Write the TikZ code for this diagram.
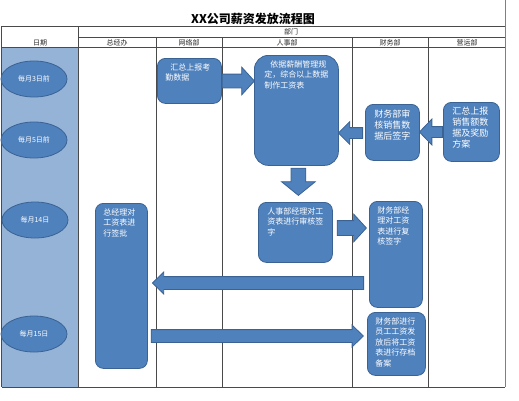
\documentclass[tikz,border=0pt]{standalone}
\usepackage{fontspec}
\setmainfont{Noto Sans CJK SC}
\usepackage{tikz}
\usetikzlibrary{positioning}
\usetikzlibrary{calc}
\usetikzlibrary{shapes.geometric}
\usetikzlibrary{shapes.arrows}

\definecolor{boxblue}{HTML}{4F81BD}
\definecolor{boxline}{HTML}{3A6394}
\definecolor{datecol}{HTML}{95B3D7}
\definecolor{gridcol}{HTML}{4A4A4A}

% text block inside a flow box: width, height, lines
\newcommand{\boxtxt}[3]{\parbox[c][#2][t]{#1}{\vspace*{5pt}#3}}
% block arrow from one named coordinate to another
\newcommand{\blockarrow}[4]{%
	\path let \p1=(#2), \p2=(#3), \n1={veclen(\x2-\x1,\y2-\y1)} in
		node[blockarrow, minimum height=\n1, anchor=tail, #4] (#1) at (#2) {};}

\begin{document}
\begin{tikzpicture}[
		x=1pt, y=-1pt,
		gridline/.style={draw=gridcol, line width=0.7pt},
		headtext/.style={text=black!85, inner sep=0pt, font=\fontsize{7}{8}\selectfont},
		datenode/.style={
			ellipse,
			draw=boxline,
			fill=boxblue,
			line width=0.8pt,
			text=white,
			minimum width=66pt,
			minimum height=36pt,
			inner sep=0pt,
			font=\fontsize{7}{8}\selectfont
		},
		flowbox/.style={
			rectangle,
			rounded corners=8pt,
			draw=boxline,
			fill=boxblue,
			line width=0.8pt,
			text=white,
			anchor=north west,
			inner xsep=8pt,
			inner ysep=0pt,
			font=\fontsize{8}{10.5}\selectfont
		},
		widebox/.style={flowbox, inner xsep=9pt, font=\fontsize{9}{11}\selectfont},
		blockarrow/.style={
			single arrow,
			draw=boxline,
			fill=boxblue,
			line width=0.8pt,
			inner xsep=0pt,
			inner ysep=6.5pt,
			minimum width=0pt,
			single arrow head extend=7pt,
			single arrow tip angle=95,
			single arrow head indent=0pt
		}
		]
		\useasboundingbox (0,0) rectangle (519,400);

		% table frame
		\fill[datecol] (2,47) rectangle (78,387);
		\draw[gridline] (2,26) -- (505,26);
		\draw[gridline] (78,37) -- (505,37);
		\draw[gridline] (2,47) -- (505,47);
		\draw[gridline] (2,387) -- (505,387);
		\draw[gridline] (1.5,26) -- (1.5,387);
		\draw[gridline, draw=gray] (505,0) -- (505,387);
		\draw[gridline] (78,26) -- (78,387);
		\foreach \xcol in {156,222,352,428}
			\draw[gridline] (\xcol,37) -- (\xcol,387);

		% headings
		\node[font=\bfseries\fontsize{12}{14}\selectfont, inner sep=0pt] (title) at (253,19) {XX公司薪资发放流程图};
		\node[headtext] (hdate) at (40,43) {日期};
		\node[headtext] (hdept) at (291,32) {部门};
		\node[headtext] (hzjb) at (117,43) {总经办};
		\node[headtext] (hwlb) at (189,43) {网络部};
		\node[headtext] (hrsb) at (287,43) {人事部};
		\node[headtext] (hcwb) at (390,43) {财务部};
		\node[headtext] (hyyb) at (467,43) {营运部};

		% dates
		\node[datenode] (d3) at (34,79) {每月3日前};
		\node[datenode] (d5) at (34,140) {每月5日前};
		\node[datenode] (d14) at (35,220) {每月14日};
		\node[datenode] (d15) at (34,334) {每月15日};

		% steps
		\node[flowbox] (kq) at (157,58) {\boxtxt{48pt}{45pt}{\hspace*{5pt}汇总上报考\\勤数据}};
		\node[flowbox, rounded corners=14pt, inner xsep=10pt] (zb) at (254,55)
			{\boxtxt{64pt}{110pt}{\hspace*{6pt}依据薪酬管理规\\定，综合以上数据\\制作工资表}};
		\node[widebox] (cwsh) at (365,104) {\boxtxt{36pt}{56pt}{财务部审\\核销售数\\据后签字}};
		\node[widebox] (yy) at (443,102) {\boxtxt{38pt}{59pt}{汇总上报\\销售额数\\据及奖励\\方案}};
		\node[flowbox, inner xsep=9pt] (rsjl) at (258,202) {\boxtxt{56pt}{60pt}{人事部经理对工\\资表进行审核签\\字}};
		\node[flowbox] (cwjl) at (369,201) {\boxtxt{37pt}{106pt}{财务部经\\理对工资\\表进行复\\核签字}};
		\node[flowbox] (zjl) at (95,203) {\boxtxt{36pt}{165pt}{总经理对\\工资表进\\行签批}};
		\node[flowbox] (cwcd) at (367,312) {\boxtxt{42pt}{63pt}{财务部进行\\员工工资发\\放后将工资\\表进行存档\\备案}};

		% block arrows
		\coordinate (a1s) at (kq.east |- 0,81);
		\coordinate (a1e) at (zb.west |- 0,81);
		\coordinate (a2s) at (yy.west |- 0,132);
		\coordinate (a2e) at (cwsh.east |- 0,132);
		\coordinate (a3s) at ($(cwsh.west |- 0,133)+(-2,0)$);
		\coordinate (a3e) at (zb.east |- 0,133);
		\coordinate (a4s) at ($(zb.south)+(2,2)$);
		\coordinate (a4e) at ($(rsjl.north)+(3,-7)$);
		\coordinate (a5s) at ($(rsjl.east |- 0,228)+(4,0)$);
		\coordinate (a5e) at ($(cwjl.west |- 0,228)+(-3,0)$);
		\coordinate (a6s) at ($(cwjl.west |- 0,283)+(-5,0)$);
		\coordinate (a6e) at ($(zjl.east |- 0,283)+(5,0)$);
		\coordinate (a7s) at ($(zjl.east |- 0,336)+(3,0)$);
		\coordinate (a7e) at ($(cwcd.west |- 0,336)+(-4,0)$);

		\blockarrow{ar1}{a1s}{a1e}{}
		\blockarrow{ar2}{a2s}{a2e}{rotate=180, inner ysep=5pt, single arrow head extend=7.5pt, single arrow tip angle=92}
		\blockarrow{ar3}{a3s}{a3e}{rotate=180, inner ysep=5pt, single arrow head extend=6pt, single arrow tip angle=90}
		\blockarrow{ar4}{a4s}{a4e}{rotate=-90, inner ysep=7pt, single arrow head extend=9.5pt, single arrow tip angle=102}
		\blockarrow{ar5}{a5s}{a5e}{inner ysep=7pt, single arrow head extend=6.5pt}
		\blockarrow{ar6}{a6s}{a6e}{rotate=180, inner ysep=6pt, single arrow head extend=4.5pt, single arrow tip angle=88}
		\blockarrow{ar7}{a7s}{a7e}{inner ysep=6pt, single arrow head extend=4.5pt, single arrow tip angle=88}
	\end{tikzpicture}
\end{document}
